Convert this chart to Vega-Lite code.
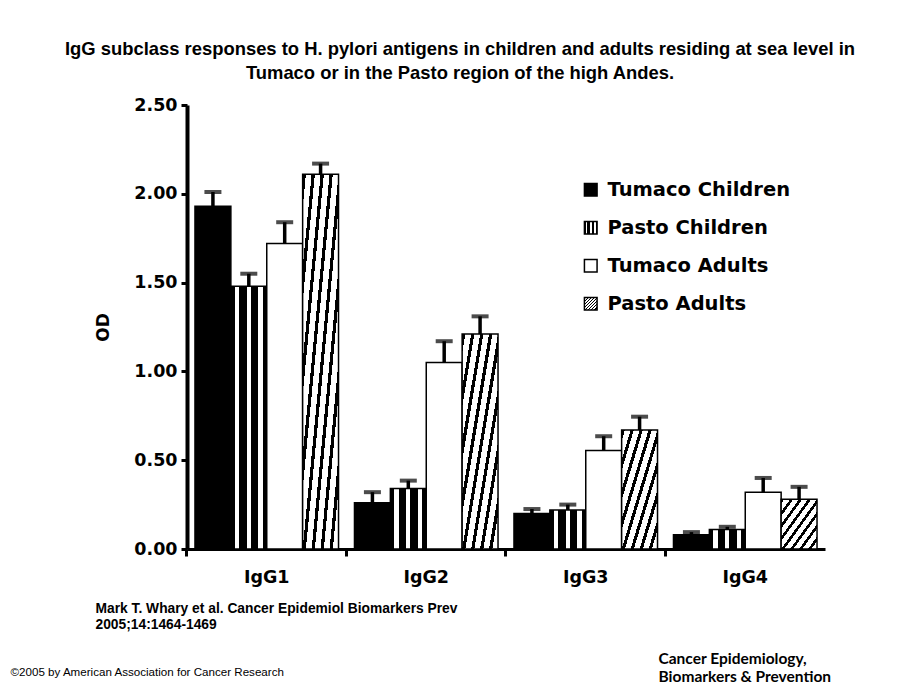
{
  "$schema": "https://vega.github.io/schema/vega-lite/v6.json",
  "width": 638,
  "height": 444,
  "autosize": {"type": "none"},
  "padding": {"left": 187, "top": 105, "right": 95, "bottom": 141},
  "background": "white",
  "title": {
    "text": ["IgG subclass responses to H. pylori antigens in children and adults residing at sea level in", "Tumaco or in the Pasto region of the high Andes."],
    "font": "Liberation Sans",
    "fontSize": 18.4,
    "fontWeight": "bold",
    "color": "black",
    "anchor": "middle",
    "frame": "group",
    "dx": -46,
    "offset": 14,
    "lineHeight": 24
  },
  "data": {
    "values": [
      {"g": "IgG1", "s": "Tumaco Children", "od": 1.93, "hi": 2.01},
      {"g": "IgG1", "s": "Pasto Children", "od": 1.48, "hi": 1.55},
      {"g": "IgG1", "s": "Tumaco Adults", "od": 1.72, "hi": 1.84},
      {"g": "IgG1", "s": "Pasto Adults", "od": 2.11, "hi": 2.17},
      {"g": "IgG2", "s": "Tumaco Children", "od": 0.26, "hi": 0.32},
      {"g": "IgG2", "s": "Pasto Children", "od": 0.34, "hi": 0.385},
      {"g": "IgG2", "s": "Tumaco Adults", "od": 1.05, "hi": 1.17},
      {"g": "IgG2", "s": "Pasto Adults", "od": 1.21, "hi": 1.31},
      {"g": "IgG3", "s": "Tumaco Children", "od": 0.2, "hi": 0.225},
      {"g": "IgG3", "s": "Pasto Children", "od": 0.22, "hi": 0.25},
      {"g": "IgG3", "s": "Tumaco Adults", "od": 0.555, "hi": 0.635},
      {"g": "IgG3", "s": "Pasto Adults", "od": 0.67, "hi": 0.745},
      {"g": "IgG4", "s": "Tumaco Children", "od": 0.08, "hi": 0.095},
      {"g": "IgG4", "s": "Pasto Children", "od": 0.11, "hi": 0.125},
      {"g": "IgG4", "s": "Tumaco Adults", "od": 0.32, "hi": 0.4},
      {"g": "IgG4", "s": "Pasto Adults", "od": 0.28, "hi": 0.35}
    ]
  },
  "encoding": {
    "x": {"field": "g", "type": "nominal", "scale": {"paddingInner": 0.1, "paddingOuter": 0.05}},
    "xOffset": {"field": "s", "type": "nominal", "scale": {"domain": ["Tumaco Children", "Pasto Children", "Tumaco Adults", "Pasto Adults"], "paddingInner": 0, "paddingOuter": 0}}
  },
  "layer": [
    {
      "mark": {"type": "bar", "strokeWidth": 1.5, "stroke": "black"},
      "encoding": {
        "x": {"field": "g", "type": "nominal", "scale": {"paddingInner": 0.1, "paddingOuter": 0.05},
          "axis": {
            "title": ["Mark T. Whary et al. Cancer Epidemiol Biomarkers Prev", "2005;14:1464-1469"],
            "titleFont": "Liberation Sans", "titleFontSize": 13.8, "titleFontWeight": "bold", "titleColor": "black",
            "titleAnchor": "start", "titleAlign": "left", "titleBaseline": "top", "titleX": -92, "titleY": 52, "titleLineHeight": 16.5,
            "labelFont": "DejaVu Sans", "labelFontSize": 17.5, "labelFontWeight": "bold", "labelColor": "black", "labelAngle": 0,
            "labelPadding": 12, "bandPosition": -0.0557,
            "domainColor": "black", "domainWidth": 3, "tickColor": "black", "tickWidth": 3, "tickSize": 7
          }
        },
        "y": {"field": "od", "type": "quantitative", "scale": {"domain": [0, 2.5], "nice": false},
          "axis": {
            "title": "OD", "titleFont": "DejaVu Sans", "titleFontSize": 17, "titleFontWeight": "bold", "titleColor": "black",
            "titleAngle": -90, "titleX": -84, "titleY": 222, "titleAlign": "center", "titleBaseline": "middle",
            "values": [0, 0.5, 1, 1.5, 2, 2.5], "format": ".2f", "grid": false,
            "labelFont": "DejaVu Sans", "labelFontSize": 17.5, "labelFontWeight": "bold", "labelColor": "black", "labelPadding": 4,
            "domainColor": "black", "domainWidth": 4, "tickColor": "black", "tickWidth": 3, "tickSize": 6
          }
        },
        "fill": {"field": "s", "type": "nominal",
          "scale": {
            "domain": ["Tumaco Children", "Pasto Children", "Tumaco Adults", "Pasto Adults"],
            "range": [
              "black",
              {"expr": "{gradient: 'linear', x1: 0, y1: 0, x2: 1, y2: 0, stops: [{offset: 0, color: 'black'}, {offset: 0.11, color: 'black'}, {offset: 0.11, color: 'white'}, {offset: 0.23, color: 'white'}, {offset: 0.23, color: 'black'}, {offset: 0.44, color: 'black'}, {offset: 0.44, color: 'white'}, {offset: 0.56, color: 'white'}, {offset: 0.56, color: 'black'}, {offset: 0.77, color: 'black'}, {offset: 0.77, color: 'white'}, {offset: 0.89, color: 'white'}, {offset: 0.89, color: 'black'}, {offset: 1, color: 'black'}]}"},
              "white",
              {"expr": "{gradient: 'linear', x1: 0, y1: 0, x2: 1, y2: 1, stops: [{offset: 0, color: 'black'}, {offset: 0.045, color: 'black'}, {offset: 0.045, color: 'white'}, {offset: 0.125, color: 'white'}, {offset: 0.125, color: 'black'}, {offset: 0.17, color: 'black'}, {offset: 0.17, color: 'white'}, {offset: 0.25, color: 'white'}, {offset: 0.25, color: 'black'}, {offset: 0.295, color: 'black'}, {offset: 0.295, color: 'white'}, {offset: 0.375, color: 'white'}, {offset: 0.375, color: 'black'}, {offset: 0.42, color: 'black'}, {offset: 0.42, color: 'white'}, {offset: 0.5, color: 'white'}, {offset: 0.5, color: 'black'}, {offset: 0.545, color: 'black'}, {offset: 0.545, color: 'white'}, {offset: 0.625, color: 'white'}, {offset: 0.625, color: 'black'}, {offset: 0.67, color: 'black'}, {offset: 0.67, color: 'white'}, {offset: 0.75, color: 'white'}, {offset: 0.75, color: 'black'}, {offset: 0.795, color: 'black'}, {offset: 0.795, color: 'white'}, {offset: 0.875, color: 'white'}, {offset: 0.875, color: 'black'}, {offset: 0.92, color: 'black'}, {offset: 0.92, color: 'white'}, {offset: 1, color: 'white'}]}"}
            ]
          },
          "legend": {
            "orient": "none", "legendX": 394, "legendY": 75, "title": null,
            "labelFont": "DejaVu Sans", "labelFontSize": 19.5, "labelFontWeight": "bold", "labelColor": "black", "labelLimit": 400,
            "symbolType": "square", "symbolSize": 160, "symbolStrokeColor": "black", "symbolStrokeWidth": 1.5, "symbolOpacity": 1,
            "rowPadding": 17, "labelOffset": 7
          }
        }
      }
    },
    {
      "mark": {"type": "rule", "color": "black", "strokeWidth": 3.5},
      "encoding": {
        "x": {"field": "g", "type": "nominal", "axis": null},
        "y": {"field": "od", "type": "quantitative",
          "axis": {
            "orient": "right", "title": "©2005 by American Association for Cancer Research",
            "domain": false, "ticks": false, "labels": false, "grid": false,
            "titleAngle": 0, "titleX": -815, "titleY": 567, "titleAlign": "left", "titleBaseline": "middle",
            "titleFont": "Liberation Sans", "titleFontSize": 11.6, "titleFontWeight": "normal", "titleColor": "black"
          }
        },
        "y2": {"field": "hi"}
      }
    },
    {
      "mark": {"type": "tick", "color": "black", "thickness": 4, "size": 17},
      "encoding": {
        "x": {"field": "g", "type": "nominal",
          "axis": {
            "orient": "top", "title": ["Cancer Epidemiology,", "Biomarkers & Prevention"],
            "domain": false, "ticks": false, "labels": false, "grid": false,
            "titleX": 471, "titleY": 546, "titleAlign": "left", "titleBaseline": "top", "titleAnchor": "start",
            "titleFont": "Lato", "titleFontSize": 15.5, "titleFontWeight": "bold", "titleColor": "black", "titleLineHeight": 18
          }
        },
        "y": {"field": "hi", "type": "quantitative", "axis": null}
      }
    }
  ],
  "resolve": {"axis": {"x": "independent", "y": "independent"}},
  "config": {"view": {"stroke": null}}
}
